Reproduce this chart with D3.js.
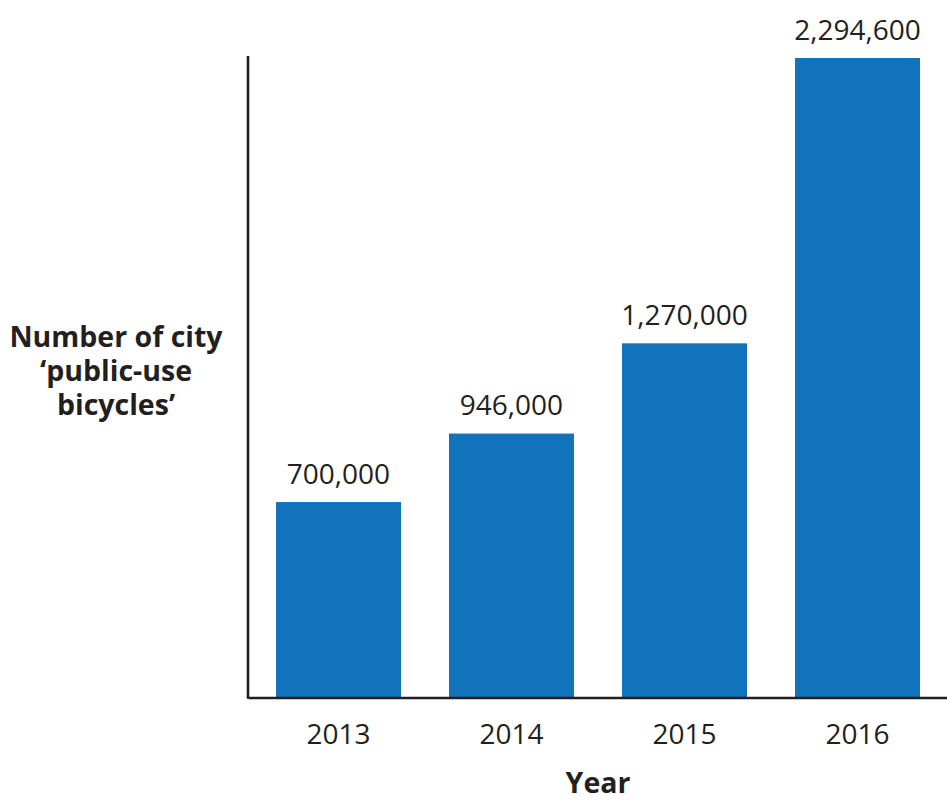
<!DOCTYPE html>
<html>
<head>
<meta charset="utf-8">
<script src="https://cdn.jsdelivr.net/npm/d3@7"></script>
<style>
  body { margin: 0; background: #fff; }
  svg { display: block; font-family: "Open Sans", sans-serif; }
</style>
</head>
<body>
<svg width="947" height="800"></svg>
<script>
// data
var years = ["2013", "2014", "2015", "2016"];
var bikes = [700000, 946000, 1270000, 2294600];
var yTitle = ["Number of city", "\u2018public-use", "bicycles\u2019"];
var xTitle = "Year";

var svg = d3.select("svg"),
    ink = "#231f20",
    barColor = "#1173bb";

var x = d3.scaleBand()
  .domain(years)
  .range([248, 948])
  .paddingInner(0.2775)
  .paddingOuter(0.1618);

var y = d3.scaleLinear()
  .domain([0, d3.max(bikes)])
  .range([697, 58]);

var fmt = d3.format(",");

// bars
svg.append("g")
  .selectAll("rect")
  .data(years)
  .enter().append("rect")
    .attr("x", function(d) { return x(d); })
    .attr("y", function(d, i) { return y(bikes[i]); })
    .attr("width", x.bandwidth())
    .attr("height", function(d, i) { return y(0) - y(bikes[i]); })
    .attr("fill", barColor);

// value labels above bars
svg.append("g")
  .selectAll("text")
  .data(years)
  .enter().append("text")
    .attr("x", function(d) { return x(d) + x.bandwidth() / 2; })
    .attr("y", function(d, i) { return y(bikes[i]) - 18.5; })
    .attr("text-anchor", "middle")
    .attr("font-size", 28)
    .attr("fill", ink)
    .text(function(d, i) { return fmt(bikes[i]); });

// x axis with year labels, no ticks
var xAxis = svg.append("g")
  .attr("transform", "translate(0," + (y(0) + 0.5) + ")")
  .call(d3.axisBottom(x).tickSize(0).tickPadding(27));

xAxis.select(".domain")
  .attr("stroke", ink)
  .attr("stroke-width", 2.6);

xAxis.selectAll(".tick text")
  .attr("font-family", "Open Sans, sans-serif")
  .attr("font-size", 28)
  .attr("fill", ink);

// y axis line
svg.append("line")
  .attr("x1", 248).attr("x2", 248)
  .attr("y1", y(d3.max(bikes)) - 2)
  .attr("y2", y(0) + 1.8)
  .attr("stroke", ink)
  .attr("stroke-width", 2.6);

// y title
svg.append("text")
  .attr("x", 116)
  .attr("y", 347)
  .attr("text-anchor", "middle")
  .attr("font-size", 28.5)
  .attr("font-weight", "bold")
  .attr("fill", ink)
  .selectAll("tspan")
  .data(yTitle)
  .enter().append("tspan")
    .attr("x", 116)
    .attr("dy", function(d, i) { return i ? 34 : 0; })
    .text(function(d) { return d; });

// x title
svg.append("text")
  .attr("x", 598)
  .attr("y", 793)
  .attr("text-anchor", "middle")
  .attr("font-size", 28.5)
  .attr("font-weight", "bold")
  .attr("fill", ink)
  .text(xTitle);
</script>
</body>
</html>
